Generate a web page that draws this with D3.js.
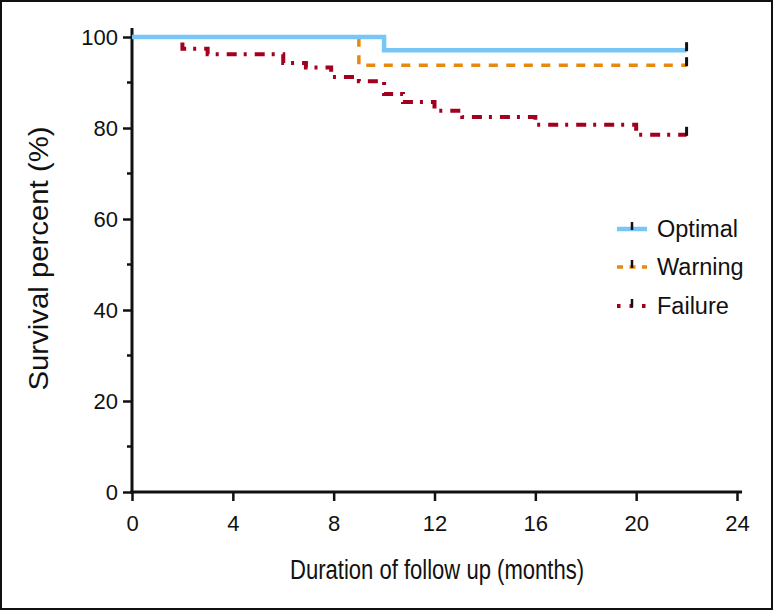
<!DOCTYPE html>
<html><head><meta charset="utf-8">
<script src="https://cdn.jsdelivr.net/npm/d3@7"></script>
<style>body{margin:0;background:#fff}svg{display:block}</style>
</head><body>
<svg id="c" width="773" height="610"></svg>
<script>
const seriesNames = ["Optimal", "Warning", "Failure"];
const optimalTimes = [0, 10, 22];
const optimalSurv = [100, 97.1, 97.1];
const warningTimes = [0, 9, 22];
const warningSurv = [100, 93.8, 93.8];
const failureTimes = [0, 2, 3, 6, 6.9, 7.9, 9, 10, 10.75, 12, 13.1, 16, 20, 22];
const failureSurv = [100, 97.4, 96.2, 94.3, 93.3, 91.2, 90.3, 87.5, 85.7, 83.8, 82.4, 80.7, 78.5, 78.5];
const xTicks = [0, 4, 8, 12, 16, 20, 24];
const yTicks = [0, 20, 40, 60, 80, 100];
const yMinor = [10, 30, 50, 70, 90];
const xTitle = "Duration of follow up (months)";
const yTitle = "Survival percent (%)";

const svg = d3.select("#c");
svg.append("rect").attr("x",1).attr("y",1).attr("width",771).attr("height",608)
  .attr("fill","#fff").attr("stroke","#111").attr("stroke-width",2);

const x = d3.scaleLinear().domain([0, 24]).range([132, 737]);
const y = d3.scaleLinear().domain([0, 100]).range([492, 37]);

const tickFont = "'Liberation Sans', Arial, sans-serif";

// axes
const xAxis = svg.append("g").attr("transform", `translate(0,${y(0)})`)
  .call(d3.axisBottom(x).tickValues(xTicks).tickSize(9).tickPadding(14).tickFormat(d3.format("d")));
xAxis.select(".domain").attr("d", `M${x(0)-1.5},0H${x(24.2)}`).attr("stroke-width", 3).attr("stroke","#111");
xAxis.selectAll(".tick line").attr("stroke-width", 2.5).attr("stroke","#111");
xAxis.selectAll(".tick text").attr("font-size", 22).attr("font-family", tickFont).attr("fill","#111");

const yAxis = svg.append("g").attr("transform", `translate(${x(0)},0)`)
  .call(d3.axisLeft(y).tickValues(yTicks).tickSize(9).tickPadding(5).tickFormat(d3.format("d")));
yAxis.select(".domain").attr("d", `M0,${y(0)+1.5}V${y(102)}`).attr("stroke-width", 3).attr("stroke","#111");
yAxis.selectAll(".tick line").attr("stroke-width", 2.5).attr("stroke","#111");
yAxis.selectAll(".tick text").attr("font-size", 22).attr("font-family", tickFont).attr("fill","#111");
yAxis.selectAll(".minor").data(yMinor).join("line").attr("class","minor")
  .attr("x1", -5).attr("x2", 0).attr("y1", d => y(d)).attr("y2", d => y(d))
  .attr("stroke", "#111").attr("stroke-width", 2.5);

// titles (condensed look)
svg.append("text").attr("x", 437).attr("y", 579).attr("text-anchor","middle")
  .attr("font-family", tickFont).attr("font-size", 27).attr("fill","#111")
  .attr("textLength", 294).attr("lengthAdjust", "spacingAndGlyphs").text(xTitle);
svg.append("text").attr("transform", `translate(48,${y(50) - 6}) rotate(-90)`).attr("text-anchor","middle")
  .attr("font-family", tickFont).attr("font-size", 27).attr("fill","#111")
  .attr("textLength", 264).attr("lengthAdjust", "spacingAndGlyphs").text(yTitle);

const styles = {
  Optimal: {color: "#77c6f7", dash: null, width: 4.5},
  Warning: {color: "#e8890f", dash: "9,8.5", width: 3.5},
  Failure: {color: "#a3001f", dash: "10,7,3,8", width: 4}
};
const data = {
  Optimal: optimalTimes.map((t,i) => [t, optimalSurv[i]]),
  Warning: warningTimes.map((t,i) => [t, warningSurv[i]]),
  Failure: failureTimes.map((t,i) => [t, failureSurv[i]])
};
const line = d3.line().x(d => x(d[0])).y(d => y(d[1])).curve(d3.curveStepAfter);

["Failure", "Warning", "Optimal"].forEach(name => {
  const s = styles[name];
  svg.append("path").datum(data[name]).attr("d", line).attr("fill","none")
    .attr("stroke", s.color).attr("stroke-width", s.width)
    .attr("stroke-dasharray", s.dash);
  const last = data[name][data[name].length - 1];
  svg.append("line").attr("x1", x(last[0])).attr("x2", x(last[0]))
    .attr("y1", y(last[1]) + 1).attr("y2", y(last[1]) - 8)
    .attr("stroke", "#111").attr("stroke-width", 3);
});

// legend
const legY = [229, 267, 306];
seriesNames.forEach((name, i) => {
  const s = styles[name];
  const g = svg.append("g");
  g.append("line").attr("x1", 617).attr("x2", 647).attr("y1", legY[i]).attr("y2", legY[i])
    .attr("stroke", s.color).attr("stroke-width", s.width)
    .attr("stroke-dasharray", name === "Optimal" ? null : (name === "Warning" ? "6,6.5" : "3.5,9"));
  g.append("line").attr("x1", 632).attr("x2", 632).attr("y1", legY[i] + 1).attr("y2", legY[i] - 7)
    .attr("stroke", "#111").attr("stroke-width", 2.5);
  g.append("text").attr("x", 657).attr("y", legY[i] + 8).attr("font-family", tickFont)
    .attr("font-size", 23.5).attr("fill", "#111").text(name);
});
</script>
</body></html>
